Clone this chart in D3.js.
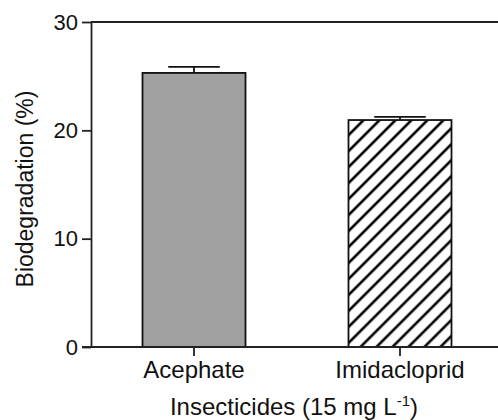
<!DOCTYPE html>
<html>
<head>
<meta charset="utf-8">
<script src="https://cdn.jsdelivr.net/npm/d3@7"></script>
<style>
  body { margin: 0; background: #fff; }
  svg text { font-family: "Liberation Sans", Arial, sans-serif; fill: #111; }
</style>
</head>
<body>
<svg width="498" height="420"></svg>
<script>
var categories = ["Acephate", "Imidacloprid"];
var means = [25.3, 20.95];
var errors = [0.55, 0.3];
var yTicks = [0, 10, 20, 30];

var svg = d3.select("svg"),
    width = +svg.attr("width"),
    height = +svg.attr("height");

var x = d3.scaleBand()
    .domain(categories)
    .range([91, 503])
    .paddingInner(0.5)
    .paddingOuter(0.25);

var y = d3.scaleLinear()
    .domain([0, 30])
    .range([347, 22]);

// hatch pattern for second bar
var defs = svg.append("defs");
defs.append("pattern")
    .attr("id", "hatch")
    .attr("patternUnits", "userSpaceOnUse")
    .attr("width", 11.3)
    .attr("height", 11.3)
    .attr("patternTransform", "rotate(45)")
  .append("line")
    .attr("x1", 3).attr("y1", 0)
    .attr("x2", 3).attr("y2", 11.3)
    .attr("stroke", "#000")
    .attr("stroke-width", 2.6);

var fills = ["#a0a0a0", "url(#hatch)"];

// bars
svg.append("g")
    .selectAll("rect")
    .data(categories)
    .enter().append("rect")
    .attr("x", function (d) { return x(d); })
    .attr("y", function (d, i) { return y(means[i]); })
    .attr("width", x.bandwidth())
    .attr("height", function (d, i) { return y(0) - y(means[i]); })
    .attr("fill", function (d, i) { return fills[i]; })
    .attr("stroke", "#111")
    .attr("stroke-width", 1.8);

// error bars (upper only)
var eb = svg.append("g")
    .attr("stroke", "#111")
    .attr("stroke-width", 1.8);

eb.selectAll("line.stem")
    .data(categories)
    .enter().append("line")
    .attr("class", "stem")
    .attr("x1", function (d) { return x(d) + x.bandwidth() / 2; })
    .attr("x2", function (d) { return x(d) + x.bandwidth() / 2; })
    .attr("y1", function (d, i) { return y(means[i]); })
    .attr("y2", function (d, i) { return y(means[i] + errors[i]); });

eb.selectAll("line.cap")
    .data(categories)
    .enter().append("line")
    .attr("class", "cap")
    .attr("x1", function (d) { return x(d) + x.bandwidth() / 4; })
    .attr("x2", function (d) { return x(d) + x.bandwidth() * 3 / 4; })
    .attr("y1", function (d, i) { return y(means[i] + errors[i]); })
    .attr("y2", function (d, i) { return y(means[i] + errors[i]); });

// y axis
var yAxis = svg.append("g")
    .attr("transform", "translate(91,0)")
    .call(d3.axisLeft(y).tickValues(yTicks).tickSize(9).tickSizeOuter(0).tickPadding(4));

yAxis.selectAll("text").style("font-size", "22px");

// x axis
var xAxis = svg.append("g")
    .attr("transform", "translate(0,347)")
    .call(d3.axisBottom(x).tickSize(9).tickSizeOuter(0).tickPadding(5));

xAxis.select(".domain").remove();
xAxis.selectAll("text").style("font-size", "24px");

svg.selectAll(".domain, .tick line")
    .attr("stroke", "#222")
    .attr("stroke-width", 1.8);

// baseline and top frame line run to the right edge
svg.append("line")
    .attr("x1", 82).attr("x2", width)
    .attr("y1", y(0)).attr("y2", y(0))
    .attr("stroke", "#222").attr("stroke-width", 1.8);

svg.append("line")
    .attr("x1", 91).attr("x2", width)
    .attr("y1", y(30)).attr("y2", y(30))
    .attr("stroke", "#222").attr("stroke-width", 1.8);

// axis titles
svg.append("text")
    .attr("transform", "translate(33,189) rotate(-90)")
    .attr("text-anchor", "middle")
    .style("font-size", "23px")
    .text("Biodegradation (%)");

var xt = svg.append("text")
    .attr("x", 294)
    .attr("y", 415)
    .attr("text-anchor", "middle")
    .style("font-size", "24px");
xt.append("tspan").text("Insecticides (15 mg L");
xt.append("tspan").attr("dy", -9).style("font-size", "15px").text("-1");
xt.append("tspan").attr("dy", 9).text(")");
</script>
</body>
</html>
